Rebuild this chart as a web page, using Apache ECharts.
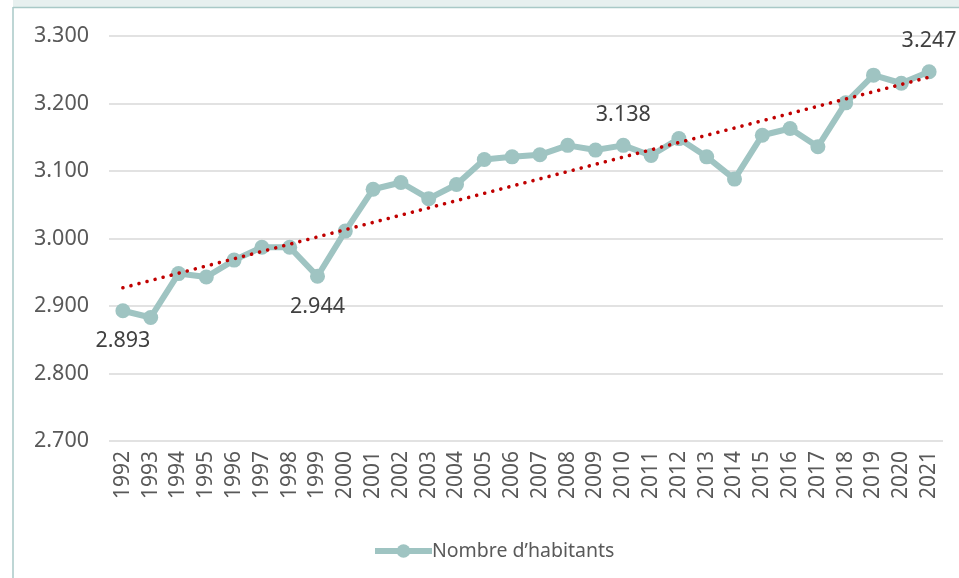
<!DOCTYPE html>
<html><head><meta charset="utf-8">
<script src="https://cdn.jsdelivr.net/npm/echarts@6/dist/echarts.min.js"></script>
<style>html,body{margin:0;padding:0;background:#fff}#c{width:959px;height:578px}</style>
</head><body><div id="c"></div>
<script>
const years = ['1992','1993','1994','1995','1996','1997','1998','1999','2000','2001','2002','2003','2004','2005','2006','2007','2008','2009','2010','2011','2012','2013','2014','2015','2016','2017','2018','2019','2020','2021'];
const habitants = [2893,2883,2948,2943,2968,2987,2987,2944,3011,3073,3083,3059,3080,3117,3121,3124,3138,3131,3138,3123,3148,3121,3088,3153,3163,3136,3201,3242,3230,3247];
const trendEnds = [2927, 3239];
const yTicks = { min: 2700, max: 3300, step: 100 };
const seriesName = 'Nombre d\u2019habitants';

const labelled = { 0: 'bottom', 7: 'bottom', 18: 'top', 29: 'top' };
const fmt = v => (v / 1000).toFixed(3);
const FONT = 'Noto Sans';

const mainData = habitants.map((v, i) => labelled[i]
  ? { value: v, label: { show: true, position: labelled[i], distance: 12, formatter: p => fmt(p.value) } }
  : v);
const trendData = years.map((y, i) => i === 0 ? trendEnds[0] : (i === years.length - 1 ? trendEnds[1] : null));

const chart = echarts.init(document.getElementById('c'), null, { renderer: 'canvas' });
chart.setOption({
  animation: false,
  backgroundColor: '#ffffff',
  graphic: [
    { type: 'rect', left: 13, top: 0, shape: { width: 946, height: 7 }, style: { fill: '#e7f0ef' }, silent: true },
    { type: 'line', shape: { x1: 13, y1: 7.5, x2: 959, y2: 7.5 }, style: { stroke: '#a9c9c7', lineWidth: 1.5 }, silent: true },
    { type: 'line', shape: { x1: 13, y1: 7, x2: 13, y2: 578 }, style: { stroke: '#a9c9c7', lineWidth: 1.5 }, silent: true }
  ],
  grid: { left: 109, right: 16, top: 36, bottom: 137, containLabel: false },
  legend: {
    data: [{ name: seriesName, lineStyle: { width: 6, color: '#9fc4c2' }, itemStyle: { color: '#9fc4c2' } }],
    left: 367, top: 536,
    itemWidth: 57, itemHeight: 17, itemGap: 0,
    textStyle: { fontFamily: FONT, fontSize: 19.5, color: '#595959', padding: [0, 0, 0, -5] }
  },
  xAxis: {
    type: 'category', data: years, boundaryGap: true,
    axisLine: { show: false }, axisTick: { show: false },
    axisLabel: { rotate: 90, margin: 10, fontFamily: FONT, fontSize: 21, color: '#595959', interval: 0 }
  },
  yAxis: {
    type: 'value', min: yTicks.min, max: yTicks.max, interval: yTicks.step,
    axisLine: { show: false }, axisTick: { show: false },
    axisLabel: { margin: 20, fontFamily: FONT, fontSize: 21.5, color: '#595959', formatter: v => fmt(v) },
    splitLine: { lineStyle: { color: '#d9d9d9', width: 1.5 } }
  },
  series: [
    {
      name: seriesName, type: 'line', data: mainData,
      symbol: 'circle', symbolSize: 15, showAllSymbol: true,
      lineStyle: { color: '#9fc4c2', width: 6 },
      itemStyle: { color: '#9fc4c2' },
      label: { show: false, fontFamily: FONT, fontSize: 21.5, color: '#404040' },
      z: 2
    },
    {
      name: 'trend', type: 'line', data: trendData, connectNulls: true,
      symbol: 'none',
      lineStyle: { color: '#c00000', width: 3.6, type: [0.01, 8.3], cap: 'round' },
      z: 3
    }
  ]
});
</script></body></html>
